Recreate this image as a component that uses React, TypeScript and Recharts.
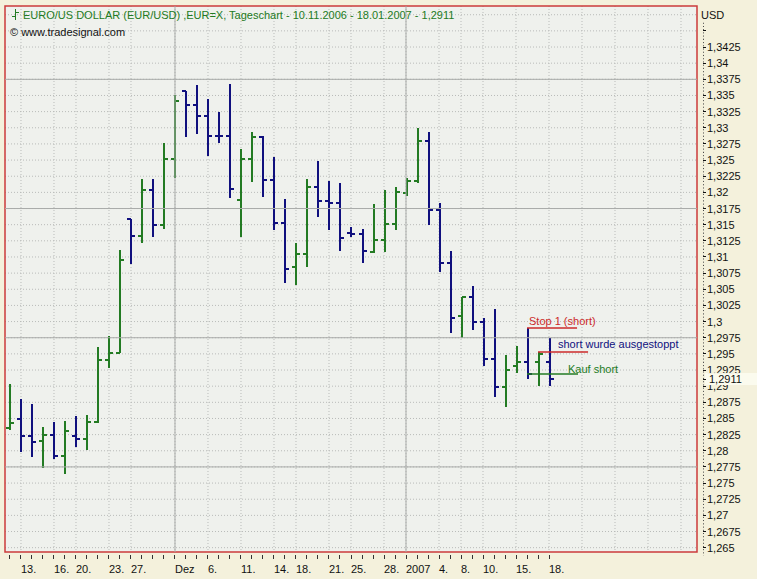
import React from 'react';
import {
  ComposedChart, Bar, XAxis, YAxis, CartesianGrid, ReferenceLine, ReferenceArea,
} from 'recharts';

// EUR/USD daily bars, 10.11.2006 - 18.01.2007
const dates = [
  '10.11.2006', '13.11.2006', '14.11.2006', '15.11.2006', '16.11.2006', '17.11.2006',
  '20.11.2006', '21.11.2006', '22.11.2006', '23.11.2006', '24.11.2006',
  '27.11.2006', '28.11.2006', '29.11.2006', '30.11.2006', '01.12.2006',
  '04.12.2006', '05.12.2006', '06.12.2006', '07.12.2006', '08.12.2006',
  '11.12.2006', '12.12.2006', '13.12.2006', '14.12.2006', '15.12.2006',
  '18.12.2006', '19.12.2006', '20.12.2006', '21.12.2006', '22.12.2006',
  '25.12.2006', '26.12.2006', '27.12.2006', '28.12.2006', '29.12.2006',
  '01.01.2007', '02.01.2007', '03.01.2007', '04.01.2007', '05.01.2007',
  '08.01.2007', '09.01.2007', '10.01.2007', '11.01.2007', '12.01.2007',
  '15.01.2007', '16.01.2007', '17.01.2007', '18.01.2007',
];
const open = [
  1.2835, 1.2849, 1.2823, 1.2815, 1.2824, 1.2792,
  1.2823, 1.2818, 1.2844, 1.2940, 1.2952,
  1.3159, 1.3132, 1.3204, 1.3149, 1.3251,
  1.3357, 1.3336, 1.3318, 1.3288, 1.3287,
  1.3188, 1.3251, 1.3286, 1.3219, 1.3152,
  1.3085, 1.3104, 1.3208, 1.3187, 1.3183,
  1.3137, 1.3135, 1.3108, 1.3126, 1.3151,
  1.3199, 1.3218, 1.3280, 1.3173, 1.3090,
  1.3009, 1.3038, 1.3000, 1.2942, 1.2898,
  1.2931, 1.2937, 1.2937, 1.2937,
];
const high = [
  1.2903, 1.2880, 1.2872, 1.2837, 1.2844, 1.2846,
  1.2854, 1.2855, 1.2960, 1.2978, 1.3111,
  1.3159, 1.3221, 1.3221, 1.3276, 1.3351,
  1.3357, 1.3366, 1.3345, 1.3324, 1.3368,
  1.3267, 1.3293, 1.3288, 1.3255, 1.3190,
  1.3122, 1.3221, 1.3249, 1.3218, 1.3215,
  1.3147, 1.3143, 1.3182, 1.3204, 1.3208,
  1.3222, 1.3299, 1.3294, 1.3184, 1.3109,
  1.3038, 1.3055, 1.3005, 1.3019, 1.2948,
  1.2962, 1.2990, 1.2953, 1.2975,
];
const low = [
  1.2832, 1.2798, 1.2791, 1.2774, 1.2787, 1.2764,
  1.2806, 1.2801, 1.2843, 1.2928, 1.2951,
  1.3089, 1.3121, 1.3131, 1.3144, 1.3223,
  1.3285, 1.3290, 1.3256, 1.3276, 1.3191,
  1.3131, 1.3216, 1.3193, 1.3142, 1.3060,
  1.3056, 1.3085, 1.3162, 1.3141, 1.3110,
  1.3131, 1.3091, 1.3106, 1.3108, 1.3141,
  1.3194, 1.3215, 1.3149, 1.3077, 1.2983,
  1.2974, 1.2987, 1.2931, 1.2883, 1.2867,
  1.2920, 1.2911, 1.2900, 1.2900,
];
const close = [
  1.2843, 1.2823, 1.2814, 1.2824, 1.2792, 1.2831,
  1.2818, 1.2845, 1.2940, 1.2952, 1.3095,
  1.3132, 1.3204, 1.3149, 1.3251, 1.3341,
  1.3336, 1.3318, 1.3288, 1.3287, 1.3205,
  1.3251, 1.3285, 1.3219, 1.3152, 1.3082,
  1.3104, 1.3208, 1.3187, 1.3183, 1.3130,
  1.3135, 1.3110, 1.3126, 1.3151, 1.3201,
  1.3218, 1.3280, 1.3173, 1.3090, 1.3005,
  1.3038, 1.3000, 1.2942, 1.2898, 1.2925,
  1.2937, 1.2919, 1.2950, 1.2911,
];
const lastClose = 1.2911;

// date axis
const xLabelIdx = [1, 4, 6, 9, 11, 15, 18, 21, 24, 26, 29, 31, 34, 36, 39, 41, 43, 46, 49];
const xLabelText = ['13.', '16.', '20.', '23.', '27.', 'Dez', '6.', '11.', '14.', '18.', '21.', '25.', '28.', '2007', '4.', '8.', '10.', '15.', '18.'];
const xFutureGridIdx = [52, 55, 58, 61];
const xMajorIdx = [15, 36];

// price axis
const yTicks = [
  1.265, 1.2675, 1.27, 1.2725, 1.275, 1.2775, 1.28, 1.2825, 1.285, 1.2875,
  1.29, 1.2925, 1.295, 1.2975, 1.3, 1.3025, 1.305, 1.3075, 1.31, 1.3125,
  1.315, 1.3175, 1.32, 1.3225, 1.325, 1.3275, 1.33, 1.3325, 1.335, 1.3375,
  1.34, 1.3425, 1.345,
];
const yGrid = [...yTicks, 1.3475];
const yMajor = [1.2775, 1.2975, 1.3175, 1.3375];

// drawn-in annotations
const noteText = ['Stop 1 (short)', 'short wurde ausgestoppt', 'Kauf short'];
const notePrice = [1.2990, 1.2953, 1.2919];
const noteFrom = [47, 48, 47];
const noteTo = [51.55, 52.55, 51.64];

const X_DOMAIN: [number, number] = [-0.4545, 62.4545];
const Y_DOMAIN: [number, number] = [1.26433, 1.34885];

const UP = '#237b23';
const DOWN = '#10107e';
const RED = '#cc2a2a';
const FONT = '"Liberation Sans", Arial, sans-serif';

const rows = dates.map((d, i) => ({
  i,
  date: d,
  o: open[i],
  h: high[i],
  l: low[i],
  c: close[i],
  range: [low[i], high[i]],
}));

function OhlcBar(props: any) {
  const { x, y, width, height, payload } = props;
  if (!payload) return null;
  const cx = Math.round(x + width / 2);
  const span = payload.h - payload.l || 1;
  const yo = y + ((payload.h - payload.o) / span) * height;
  const yc = y + ((payload.h - payload.c) / span) * height;
  const col = payload.c >= payload.o ? UP : DOWN;
  return (
    <g stroke={col} strokeWidth={2} shapeRendering="crispEdges">
      <line x1={cx} x2={cx} y1={y} y2={y + height} />
      <line x1={cx - 4} x2={cx} y1={yo} y2={yo} />
      <line x1={cx} x2={cx + 4} y1={yc} y2={yc} />
    </g>
  );
}

function DateTick(props: any) {
  const { x, y, payload } = props;
  const k = xLabelIdx.indexOf(payload.value);
  return (
    <g>
      <line x1={x} x2={x} y1={y + 1} y2={y + 5} stroke="#333" shapeRendering="crispEdges" />
      {k >= 0 && (
        <text x={x} y={y + 19} fontSize={11} fontFamily={FONT} fill="#111" textAnchor="start">
          {xLabelText[k]}
        </text>
      )}
    </g>
  );
}

function PriceTick(props: any) {
  const { x, y, payload } = props;
  const v = payload.value;
  if (v === lastClose) {
    return (
      <g>
        <rect x={x + 6} y={y - 6} width={52} height={12} fill="#fbfbee" />
        <line x1={x + 4} x2={x + 7} y1={y} y2={y} stroke="#111" shapeRendering="crispEdges" />
        <text x={x + 10} y={y + 4} fontSize={11} fontFamily={FONT} fill="#111">
          {String(v).replace('.', ',')}
        </text>
      </g>
    );
  }
  return (
    <g>
      <line x1={x + 4.5} x2={x + 4.5} y1={y - 8.1} y2={y + 8.1} stroke="#444" strokeDasharray="1 2.2" />
      <line x1={x + 4} x2={x + 7} y1={y} y2={y} stroke="#111" shapeRendering="crispEdges" />
      {v < 1.344 && (
        <text x={x + 8} y={y + 4} fontSize={11} fontFamily={FONT} fill="#111">
          {String(v).replace('.', ',')}
        </text>
      )}
    </g>
  );
}

function NoteLabel(props: any) {
  const vb = props.viewBox || {};
  return (
    <text x={vb.x + props.dx} y={vb.y + props.dy} fontSize={11} fontFamily={FONT} fill={props.color}>
      {props.text}
    </text>
  );
}

const noteLine = [RED, RED, UP];
const noteInk = [RED, DOWN, UP];
const noteDx = [2, 20, 41];
const noteDy = [-3, -4, -1];

function TitleIcon() {
  return (
    <svg width={7} height={11} style={{ verticalAlign: '-1px', marginRight: 4 }}>
      <g stroke={UP} strokeWidth={1}>
        <line x1={3.5} x2={3.5} y1={0} y2={11} />
        <line x1={0} x2={3.5} y1={7.5} y2={7.5} />
        <line x1={3.5} x2={7} y1={3.5} y2={3.5} />
      </g>
    </svg>
  );
}

export default function App() {
  return (
    <div
      style={{
        position: 'absolute', left: 0, top: 0, width: 757, height: 579,
        background: '#f4f1dc', fontFamily: FONT, overflow: 'hidden',
      }}
    >
      <ComposedChart
        width={757}
        height={579}
        data={rows}
        margin={{ top: 6, right: 0, bottom: 0, left: 5 }}
      >
        <CartesianGrid
          fill="#eff1ed"
          stroke="#b9bbb9"
          strokeDasharray="1 2"
          horizontalValues={yGrid}
          verticalValues={[...xLabelIdx, ...xFutureGridIdx]}
        />
        <XAxis
          dataKey="i"
          type="number"
          domain={X_DOMAIN}
          allowDataOverflow
          ticks={rows.map((r) => r.i)}
          interval={0}
          height={27}
          tickSize={0}
          tickLine={false}
          axisLine={false}
          tick={<DateTick />}
        />
        <YAxis
          orientation="right"
          type="number"
          domain={Y_DOMAIN}
          allowDataOverflow
          ticks={[...yTicks, lastClose]}
          interval={0}
          width={60}
          tickSize={0}
          tickLine={false}
          axisLine={false}
          tick={<PriceTick />}
        />
        {yMajor.map((v) => (
          <ReferenceLine key={'h' + v} y={v} stroke="#a9aba9" strokeWidth={1} />
        ))}
        {xMajorIdx.map((v) => (
          <ReferenceLine key={'v' + v} x={v} stroke="#a9aba9" strokeWidth={1} />
        ))}
        <Bar dataKey="range" barSize={6} shape={<OhlcBar />} isAnimationActive={false} />
        {noteText.map((t, k) => (
          <ReferenceLine
            key={t}
            segment={[{ x: noteFrom[k], y: notePrice[k] }, { x: noteTo[k], y: notePrice[k] }]}
            stroke={noteLine[k]}
            strokeWidth={1.5}
            label={<NoteLabel text={t} color={noteInk[k]} dx={noteDx[k]} dy={noteDy[k]} />}
          />
        ))}
        <ReferenceArea
          x1={X_DOMAIN[0]}
          x2={X_DOMAIN[1]}
          y1={Y_DOMAIN[0]}
          y2={Y_DOMAIN[1]}
          fill="none"
          stroke="#cc3b3b"
          strokeWidth={1.5}
        />
      </ComposedChart>
      <div style={{ position: 'absolute', left: 12, top: 9, fontSize: 11, lineHeight: '13px', color: UP, whiteSpace: 'nowrap' }}>
        <TitleIcon />
        EURO/US DOLLAR (EUR/USD) ,EUR=X, Tageschart - 10.11.2006 - 18.01.2007 - 1,2911
      </div>
      <div style={{ position: 'absolute', left: 10, top: 26, fontSize: 11, lineHeight: '13px', color: '#111', whiteSpace: 'nowrap' }}>
        © www.tradesignal.com
      </div>
      <div style={{ position: 'absolute', left: 701, top: 9, fontSize: 11, lineHeight: '13px', color: '#111' }}>
        USD
      </div>
    </div>
  );
}
